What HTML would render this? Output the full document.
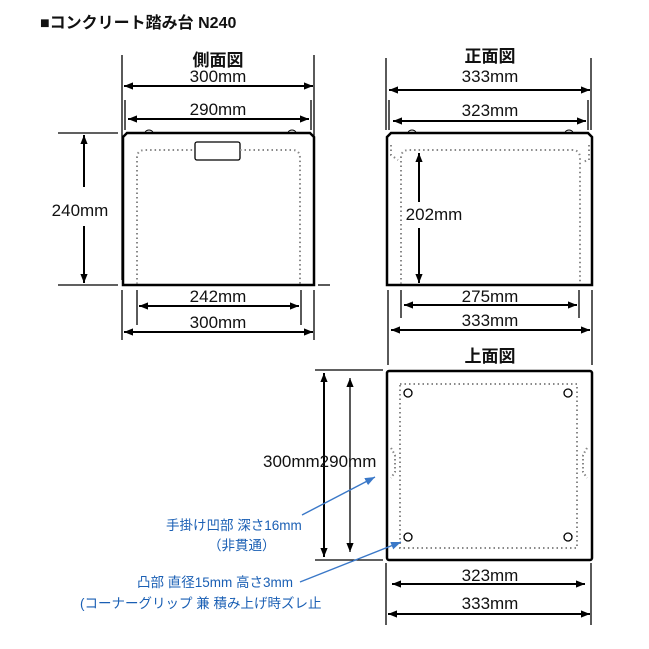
<!DOCTYPE html>
<html><head><meta charset="utf-8"><style>
body{margin:0;background:#fff}
svg{display:block}
text{font-family:"Liberation Sans","Noto Sans CJK JP",sans-serif;fill:#111}
.t{font-size:17px;text-anchor:middle}
.b{fill:#1a5fb4;font-size:13.5px}
</style></head><body>
<svg width="649" height="649" viewBox="0 0 649 649">
<defs>
<marker id="a" viewBox="0 0 10 10" refX="10" refY="5" markerWidth="9" markerHeight="9" orient="auto-start-reverse" markerUnits="userSpaceOnUse"><path d="M0,1 L10,5 L0,9 z" fill="#000"/></marker>
<marker id="bl" viewBox="0 0 10 10" refX="10" refY="5" markerWidth="10" markerHeight="10" orient="auto" markerUnits="userSpaceOnUse"><path d="M0,1 L10,5 L0,9 z" fill="#3a78c8"/></marker>
</defs>
<text x="40" y="28" style="font-size:16px;font-weight:bold">■コンクリート踏み台 N240</text>

<!-- side view -->
<g stroke="#000" fill="none" stroke-width="1.3">
<line x1="122" y1="55" x2="122" y2="280"/><line x1="314" y1="55" x2="314" y2="280"/>
<line x1="125" y1="100" x2="125" y2="130"/><line x1="311" y1="100" x2="311" y2="130"/>
<line x1="58" y1="133" x2="118" y2="133"/><line x1="58" y1="285" x2="118" y2="285"/><line x1="318" y1="285" x2="330" y2="285"/>
<line x1="122" y1="290" x2="122" y2="340"/><line x1="314" y1="290" x2="314" y2="340"/>
<line x1="137" y1="290" x2="137" y2="325"/><line x1="301" y1="290" x2="301" y2="325"/>
<line x1="124" y1="86" x2="313" y2="86" marker-start="url(#a)" marker-end="url(#a)" stroke-width="2"/>
<line x1="128" y1="119" x2="309" y2="119" marker-start="url(#a)" marker-end="url(#a)" stroke-width="2"/>
<line x1="84" y1="135" x2="84" y2="187" marker-start="url(#a)" stroke-width="2"/>
<line x1="84" y1="226" x2="84" y2="283" marker-end="url(#a)" stroke-width="2"/>
<line x1="139" y1="306" x2="299" y2="306" marker-start="url(#a)" marker-end="url(#a)" stroke-width="2"/>
<line x1="124" y1="332" x2="313" y2="332" marker-start="url(#a)" marker-end="url(#a)" stroke-width="2"/>
<path d="M145,133 a4,3 0 0 1 8,0 M288,133 a4,3 0 0 1 8,0" stroke-width="1"/>
<path d="M127,133 L310,133 L314,137 L314,285 L123,285 L123,137 Z" stroke-width="2.5"/>
<rect x="195" y="142" width="45" height="18" rx="2" stroke-width="1.3"/>
<path d="M137,284 L137,158 Q137,150 145,150 L195,150 M240,150 L292,150 Q300,150 300,158 L300,284" stroke="#888" stroke-width="2" stroke-dasharray="1.5 3"/>
</g>
<text class="t" x="218" y="66" style="font-weight:bold">側面図</text>
<text class="t" x="218" y="82">300mm</text>
<text class="t" x="218" y="115">290mm</text>
<text class="t" x="80" y="216">240mm</text>
<text class="t" x="218" y="302">242mm</text>
<text class="t" x="218" y="328">300mm</text>

<!-- front view -->
<g stroke="#000" fill="none" stroke-width="1.3">
<line x1="386" y1="58" x2="386" y2="130"/><line x1="591" y1="58" x2="591" y2="130"/>
<line x1="389" y1="100" x2="389" y2="130"/><line x1="588" y1="100" x2="588" y2="130"/>
<line x1="388" y1="290" x2="388" y2="365"/><line x1="592" y1="290" x2="592" y2="365"/>
<line x1="401" y1="290" x2="401" y2="318"/><line x1="579" y1="290" x2="579" y2="318"/>
<line x1="389" y1="90" x2="590" y2="90" marker-start="url(#a)" marker-end="url(#a)" stroke-width="2"/>
<line x1="393" y1="121" x2="586" y2="121" marker-start="url(#a)" marker-end="url(#a)" stroke-width="2"/>
<line x1="419" y1="153" x2="419" y2="202" marker-start="url(#a)" stroke-width="2"/>
<line x1="419" y1="228" x2="419" y2="283" marker-end="url(#a)" stroke-width="2"/>
<line x1="404" y1="305" x2="577" y2="305" marker-start="url(#a)" marker-end="url(#a)" stroke-width="2"/>
<line x1="391" y1="330" x2="590" y2="330" marker-start="url(#a)" marker-end="url(#a)" stroke-width="2"/>
<path d="M408,133 a4,3 0 0 1 8,0 M565,133 a4,3 0 0 1 8,0" stroke-width="1"/>
<path d="M391,133 L588,133 L592,137 L592,285 L387,285 L387,137 Z" stroke-width="2.5"/>
<path d="M401,284 L401,158 Q401,150 409,150 L572,150 Q580,150 580,158 L580,284" stroke="#888" stroke-width="2" stroke-dasharray="1.5 3"/>
<path d="M391,145 L391,155 L398,160 M589,145 L589,160 L582,162" stroke="#888" stroke-width="2" stroke-dasharray="1.5 3"/>
</g>
<text class="t" x="490" y="62" style="font-weight:bold">正面図</text>
<text class="t" x="490" y="82">333mm</text>
<text class="t" x="490" y="116">323mm</text>
<text class="t" x="434" y="220">202mm</text>
<text class="t" x="490" y="302">275mm</text>
<text class="t" x="490" y="326">333mm</text>

<!-- top view -->
<g stroke="#000" fill="none" stroke-width="1.3">
<line x1="315" y1="370" x2="383" y2="370"/><line x1="315" y1="560" x2="383" y2="560"/>
<line x1="386" y1="563" x2="386" y2="625"/><line x1="591" y1="563" x2="591" y2="625"/>
<line x1="324" y1="373" x2="324" y2="557" marker-start="url(#a)" marker-end="url(#a)" stroke-width="2"/>
<line x1="350" y1="378" x2="350" y2="552" marker-start="url(#a)" marker-end="url(#a)" stroke-width="1.3"/>
<line x1="392" y1="584" x2="585" y2="584" marker-start="url(#a)" marker-end="url(#a)" stroke-width="2"/>
<line x1="388" y1="614" x2="590" y2="614" marker-start="url(#a)" marker-end="url(#a)" stroke-width="2"/>
<rect x="387" y="371" width="205" height="189" rx="2" stroke-width="2.5"/>
<rect x="400" y="384" width="177" height="164" stroke="#888" stroke-width="2" stroke-dasharray="1.5 3"/>
<path d="M391,448 L395,455 L395,472 L391,478 M587,448 L583,455 L583,472 L587,478" stroke="#888" stroke-width="2" stroke-dasharray="1.5 2.5"/>
<circle cx="408" cy="393" r="4"/><circle cx="568" cy="393" r="4"/>
<circle cx="408" cy="537" r="4"/><circle cx="568" cy="537" r="4"/>
<line x1="302" y1="515" x2="375" y2="477" stroke="#3a78c8" stroke-width="1.4" marker-end="url(#bl)"/>
<line x1="300" y1="582" x2="401" y2="542" stroke="#3a78c8" stroke-width="1.4" marker-end="url(#bl)"/>
</g>
<text class="t" x="490" y="362" style="font-weight:bold">上面図</text>
<text x="263" y="467" style="font-size:17px">300mm290mm</text>
<text class="t" x="490" y="581">323mm</text>
<text class="t" x="490" y="609">333mm</text>
<text class="b" x="166" y="530">手掛け凹部 深さ16mm</text>
<text class="b" x="208" y="550">（非貫通）</text>
<text class="b" x="137" y="587">凸部 直径15mm 高さ3mm</text>
<text class="b" x="80" y="608">(コーナーグリップ 兼 積み上げ時ズレ止</text>
</svg>
</body></html>
